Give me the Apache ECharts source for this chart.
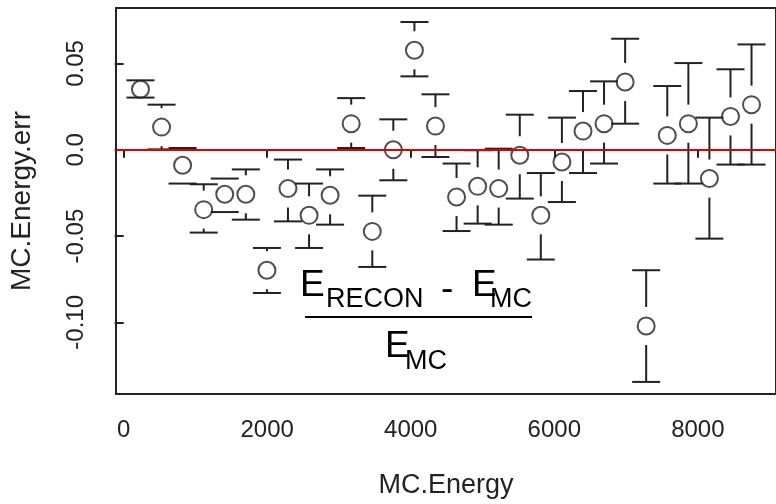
<!DOCTYPE html>
<html>
<head>
<meta charset="utf-8">
<script src="https://cdn.jsdelivr.net/npm/echarts@6/dist/echarts.min.js"></script>
<style>
  html, body { margin: 0; padding: 0; background: #ffffff; }
  #chart { width: 776px; height: 504px; }
</style>
</head>
<body>
<div id="chart"></div>
<script>
// Relative energy error per MC energy bin, with lower/upper error limits
const energy = [234, 528, 821, 1115, 1408, 1702, 1996, 2289, 2583, 2876,
                3170, 3464, 3757, 4051, 4344, 4638, 4932, 5225, 5519, 5812,
                6106, 6400, 6693, 6987, 7280, 7574, 7868, 8161, 8455, 8748];
const relErr = [0.0350, 0.0131, -0.0090, -0.0347, -0.0258, -0.0258, -0.0698, -0.0225, -0.0380, -0.0264,
                0.0151, -0.0473, 0.0000, 0.0576, 0.0137, -0.0274, -0.0212, -0.0225, -0.0032, -0.0380,
                -0.0071, 0.0108, 0.0151, 0.0392, -0.1021, 0.0083, 0.0151, -0.0167, 0.0193, 0.0261];
const errHigh = [0.0402, 0.0261, 0.0010, -0.0200, -0.0167, -0.0114, -0.0569, -0.0057, -0.0196, -0.0114,
                 0.0299, -0.0266, 0.0176, 0.0740, 0.0321, -0.0080, -0.0003, 0.0006, 0.0203, -0.0135,
                 0.0186, 0.0340, 0.0396, 0.0643, -0.0698, 0.0369, 0.0502, 0.0186, 0.0466, 0.0610];
const errLow = [0.0302, 0.0002, -0.0196, -0.0480, -0.0361, -0.0405, -0.0830, -0.0415, -0.0569, -0.0434,
                0.0010, -0.0679, -0.0177, 0.0425, -0.0042, -0.0471, -0.0428, -0.0434, -0.0283, -0.0636,
                -0.0303, -0.0135, -0.0080, 0.0151, -0.1345, -0.0196, -0.0196, -0.0515, -0.0086, -0.0086];
const refLevel = -0.0019;

const xTicks = [0, 2000, 4000, 6000, 8000];
const yTickValues = [-0.10, -0.05, 0.0, 0.05];
const yTickLabels = ['-0.10', '-0.05', '0.0', '0.05'];

const INK = '#222222';
const FONT = 'Liberation Sans, Arial, sans-serif';

const chart = echarts.init(document.getElementById('chart'), null, { renderer: 'canvas' });

// error bars: vertical whiskers broken around the point, with flat caps
function renderErrorBar(params, api) {
  const x = api.value(0), y = api.value(1), lo = api.value(2), hi = api.value(3);
  const pc = api.coord([x, y]);
  const ph = api.coord([x, hi]);
  const pl = api.coord([x, lo]);
  const gap = 19, half = 14;
  const style = { stroke: INK, lineWidth: 2, fill: null };
  const children = [
    { type: 'line', shape: { x1: pc[0] - half, y1: ph[1], x2: pc[0] + half, y2: ph[1] }, style },
    { type: 'line', shape: { x1: pc[0] - half, y1: pl[1], x2: pc[0] + half, y2: pl[1] }, style }
  ];
  if (pc[1] - gap > ph[1]) {
    children.push({ type: 'line', shape: { x1: pc[0], y1: ph[1], x2: pc[0], y2: pc[1] - gap }, style });
  }
  if (pc[1] + gap < pl[1]) {
    children.push({ type: 'line', shape: { x1: pc[0], y1: pc[1] + gap, x2: pc[0], y2: pl[1] }, style });
  }
  return { type: 'group', children };
}

function yLabel(v) {
  for (let i = 0; i < yTickValues.length; i++) {
    if (Math.abs(yTickValues[i] - v) < 1e-9) return yTickLabels[i];
  }
  return '';
}

// fraction (E_RECON - E_MC) / E_MC drawn as an annotation inside the plot
const formulaFont = (size) => size + 'px ' + FONT;
const formula = [
  { type: 'text', x: 300, y: 286, style: { text: 'E', font: formulaFont(37), fill: '#000', verticalAlign: 'middle' } },
  { type: 'text', x: 326, y: 300, style: { text: 'RECON', font: formulaFont(27), fill: '#000', verticalAlign: 'middle' } },
  { type: 'text', x: 441, y: 290, style: { text: '-', font: formulaFont(37), fill: '#000', verticalAlign: 'middle' } },
  { type: 'text', x: 472, y: 286, style: { text: 'E', font: formulaFont(37), fill: '#000', verticalAlign: 'middle' } },
  { type: 'text', x: 490, y: 300, style: { text: 'MC', font: formulaFont(27), fill: '#000', verticalAlign: 'middle' } },
  { type: 'line', shape: { x1: 305, y1: 317, x2: 532, y2: 317 }, style: { stroke: '#000', lineWidth: 2 } },
  { type: 'text', x: 385, y: 347, style: { text: 'E', font: formulaFont(37), fill: '#000', verticalAlign: 'middle' } },
  { type: 'text', x: 405, y: 362, style: { text: 'MC', font: formulaFont(27), fill: '#000', verticalAlign: 'middle' } }
].map(el => Object.assign({ silent: true, z: 10 }, el));

const option = {
  backgroundColor: '#ffffff',
  animation: false,
  grid: {
    left: 113, top: 8, right: -5, bottom: 110,
    show: true, borderColor: INK, borderWidth: 2, backgroundColor: 'transparent'
  },
  xAxis: {
    type: 'value',
    min: -107, max: 9089,
    name: 'MC.Energy',
    nameLocation: 'middle',
    nameGap: 78,
    nameTextStyle: { fontFamily: FONT, fontSize: 27, color: INK },
    axisLine: { show: false },
    splitLine: { show: false },
    axisTick: { show: true, length: 8, inside: false, customValues: xTicks, lineStyle: { color: INK, width: 2 } },
    axisLabel: { show: true, margin: 24, customValues: xTicks, fontFamily: FONT, fontSize: 24, color: INK,
                 formatter: v => String(v) }
  },
  yAxis: {
    type: 'value',
    min: -0.1415, max: 0.0821,
    name: 'MC.Energy.err',
    nameLocation: 'middle',
    nameRotate: 90,
    nameGap: 80,
    nameTextStyle: { fontFamily: FONT, fontSize: 28, color: INK },
    axisLine: { show: false },
    splitLine: { show: false },
    axisTick: { show: true, length: 9, inside: false, customValues: yTickValues, lineStyle: { color: INK, width: 2 } },
    axisLabel: { show: true, margin: 28, rotate: 90, customValues: yTickValues, fontFamily: FONT, fontSize: 24,
                 color: INK, formatter: yLabel }
  },
  series: [
    {
      type: 'custom',
      renderItem: renderErrorBar,
      data: energy.map((x, i) => [x, relErr[i], errLow[i], errHigh[i]]),
      encode: { x: 0, y: [1, 2, 3] },
      z: 2,
      silent: true
    },
    {
      type: 'scatter',
      data: energy.map((x, i) => [x, relErr[i]]),
      symbol: 'circle',
      symbolSize: 17,
      itemStyle: { color: 'rgba(0,0,0,0)', borderColor: INK, borderWidth: 2 },
      z: 3,
      silent: true
    },
    {
      type: 'line',
      data: [],
      silent: true,
      markLine: {
        symbol: 'none',
        silent: true,
        label: { show: false },
        lineStyle: { color: '#e00000', width: 2, type: 'solid' },
        data: [{ yAxis: refLevel }]
      },
      z: 4
    }
  ],
  graphic: formula
};

chart.setOption(option);
</script>
</body>
</html>
